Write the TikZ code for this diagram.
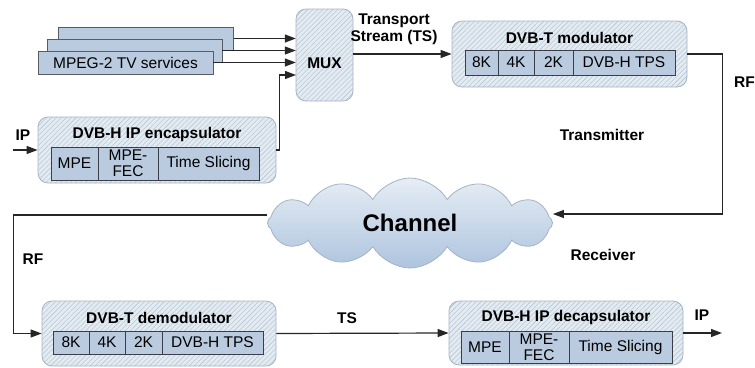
\documentclass[tikz,border=0pt]{standalone}
\usepackage{fontspec}
\setmainfont{Liberation Sans}
\usetikzlibrary{positioning,arrows.meta,patterns.meta,shapes.symbols}
\definecolor{blockfill}{HTML}{E2EAF2}
\definecolor{hatchcol}{HTML}{B2BECC}
\definecolor{blockline}{HTML}{A4B4C6}
\definecolor{cellfill}{HTML}{BACBDF}
\definecolor{cellline}{HTML}{3A3E48}
\definecolor{cloudtop}{HTML}{E6EDF5}
\definecolor{cloudbot}{HTML}{AEC4DE}
\tikzset{
  block/.style={draw=blockline, line width=0.8pt, rounded corners=10pt,
    preaction={fill=blockfill},
    pattern={Lines[angle=45,distance=3.5pt,line width=0.4pt]}, pattern color=hatchcol},
  cell/.style={draw=cellline, fill=cellfill, line width=0.9pt, inner sep=0pt,
    outer sep=0pt, align=center, font=\fontsize{15.5}{16}\selectfont},
  mpeg/.style={draw=cellline!85, fill=cellfill, line width=0.9pt, inner sep=0pt,
    minimum width=175pt, minimum height=23pt, font=\fontsize{15.5}{16}\selectfont},
  title/.style={font=\bfseries\fontsize{15.5}{17}\selectfont, inner sep=0pt},
  lbl/.style={font=\bfseries\fontsize{15.5}{17}\selectfont, align=center, inner sep=0pt},
  conn/.style={draw=black!85, line width=1.2pt, -{Triangle[length=11pt,width=8pt]}}
}
\begin{document}
\begin{tikzpicture}[x=1pt,y=-1pt]
\useasboundingbox (0,0) rectangle (755,367);
% transmitter side
\node[mpeg] (mpegc) at (146,38.5) {};
\node[mpeg] (mpegb) at (134.5,50.5) {};
\node[mpeg] (mpega) at (125.5,62.5) {MPEG-2 TV services};
\node[block, minimum width=57pt, minimum height=92pt, text height=26pt, text depth=0pt,
  font=\bfseries\fontsize{15.5}{17}\selectfont] (mux) at (324.5,55) {MUX};
\foreach \n in {mpegc,mpegb,mpega}
  \draw[conn] (\n.east) -- (\n.east -| mux.west);

\node[block, minimum width=238pt, minimum height=66pt] (enc) at (157,150) {};
\node[title] (enctitle) at ([yshift=-18pt]enc.north) {DVB-H IP encapsulator};
\node[cell, minimum width=47pt, minimum height=33pt, anchor=north west] (encmpe) at (51,147) {MPE};
\node[cell, minimum width=60pt, minimum height=33pt, right=0pt of encmpe] (encfec) {MPE-\\FEC};
\node[cell, minimum width=101pt, minimum height=33pt, right=0pt of encfec] (encts) {Time Slicing};
\coordinate (ipin) at (13,150);
\coordinate (muxin) at (296,75);
\node[lbl] (iplbl) at (23,135) {IP};
\draw[conn] (ipin) -- (enc.west);
\draw[conn] (enc.east) -- ++(3,0) |- (muxin);

\node[block, minimum width=235pt, minimum height=66pt] (mod) at (569.5,54) {};
\node[title] (modtitle) at ([yshift=-17pt]mod.north) {DVB-T modulator};
\node[cell, minimum width=33pt, minimum height=25pt, anchor=north west] (mod8k) at (465,50) {8K};
\node[cell, minimum width=36pt, minimum height=25pt, right=0pt of mod8k] (mod4k) {4K};
\node[cell, minimum width=39pt, minimum height=25pt, right=0pt of mod4k] (mod2k) {2K};
\node[cell, minimum width=102pt, minimum height=25pt, right=0pt of mod2k] (modtps) {DVB-H TPS};
\draw[conn] (mod.west -| mux.east) -- (mod.west);
\node[lbl] (tslbl) at (394,29) {Transport\\Stream (TS)};

% channel
\node[cloud, cloud puffs=12, cloud puff arc=120, aspect=3.2, draw=blockline, line width=0.8pt,
  top color=cloudtop, bottom color=cloudbot, minimum width=285pt, minimum height=90pt,
  inner sep=0pt, font=\bfseries\fontsize{24}{26}\selectfont] (chan) at (410,223) {Channel};
\draw[conn] (mod.east) -- ++(35,0) |- ([yshift=9pt]chan.east);
\node[lbl, anchor=west] (rftx) at (734,82) {RF};
\node[lbl] (txlbl) at (602,135) {Transmitter};
\node[lbl] (rxlbl) at (603,255) {Receiver};

% receiver side
\node[block, minimum width=234pt, minimum height=65pt] (demod) at (159,333.5) {};
\node[title] (demodtitle) at ([yshift=-17pt]demod.north) {DVB-T demodulator};
\node[cell, minimum width=36pt, minimum height=23pt, anchor=north west] (dem8k) at (53,331) {8K};
\node[cell, minimum width=36pt, minimum height=23pt, right=0pt of dem8k] (dem4k) {4K};
\node[cell, minimum width=37pt, minimum height=23pt, right=0pt of dem4k] (dem2k) {2K};
\node[cell, minimum width=101pt, minimum height=23pt, right=0pt of dem2k] (demtps) {DVB-H TPS};
\draw[conn] ([yshift=8pt]chan.west) -- ++(-254,0) |- (demod.west);
\node[lbl] (rfrx) at (33,259) {RF};

\node[block, minimum width=234pt, minimum height=64pt] (decap) at (566,333) {};
\node[title] (decaptitle) at ([yshift=-17pt]decap.north) {DVB-H IP decapsulator};
\node[cell, minimum width=48pt, minimum height=32pt, anchor=north west] (decmpe) at (461,331) {MPE};
\node[cell, minimum width=60pt, minimum height=32pt, right=0pt of decmpe] (decfec) {MPE-\\FEC};
\node[cell, minimum width=103pt, minimum height=32pt, right=0pt of decfec] (dects) {Time Slicing};
\draw[conn] (demod.east) -- (decap.west);
\node[lbl] (tsrx) at (347,318) {TS};
\coordinate (ipout) at (722,333);
\draw[conn] (decap.east) -- (ipout);
\node[lbl] (ipoutlbl) at (702,315) {IP};
\end{tikzpicture}
\end{document}
